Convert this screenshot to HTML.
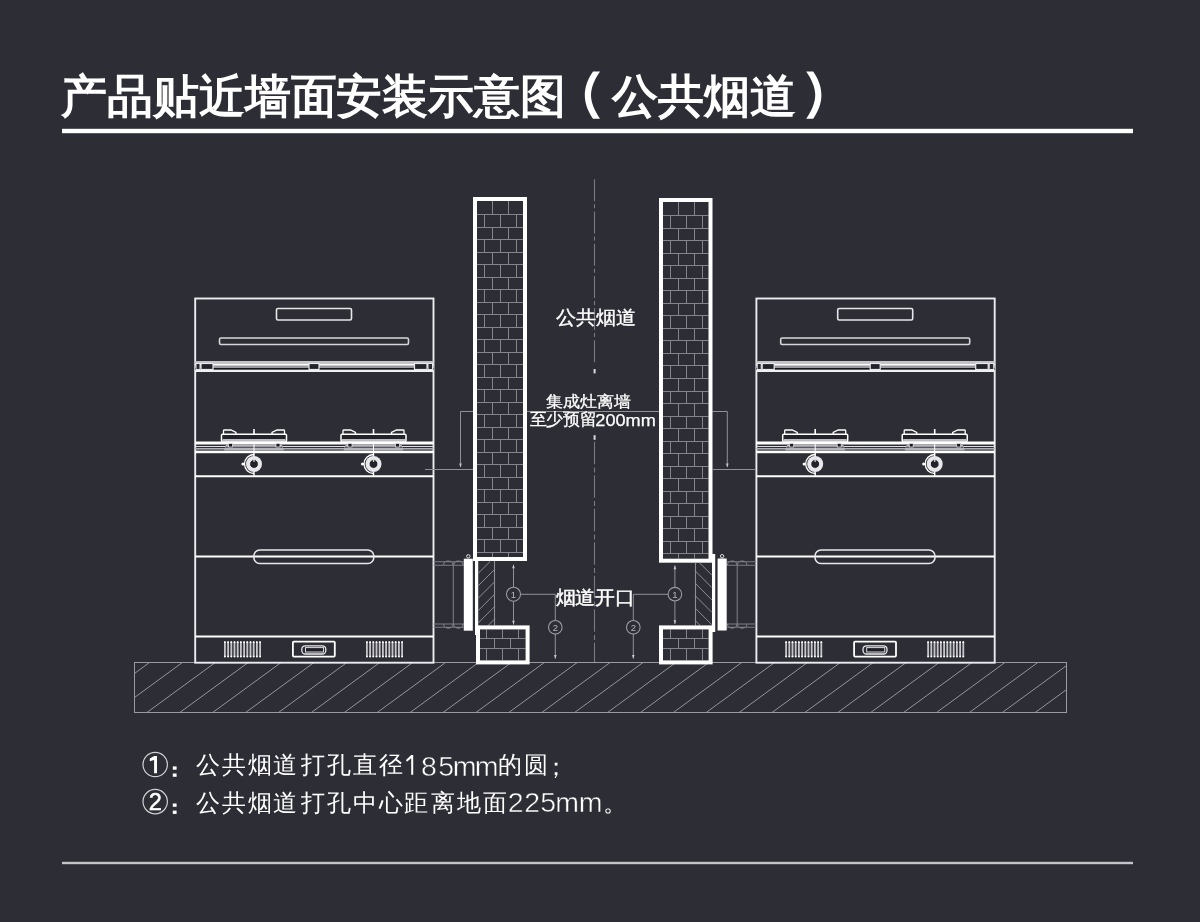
<!DOCTYPE html><html><head><meta charset="utf-8"><style>html,body{margin:0;padding:0;background:#2d2d36;}body{width:1200px;height:922px;overflow:hidden;font-family:"Liberation Sans",sans-serif;}</style></head><body>
<svg width="1200" height="922" viewBox="0 0 1200 922" style="display:block;will-change:transform">
<rect width="1200" height="922" fill="#2d2d36"/>
<text x="61" y="111.5" textLength="505" lengthAdjust="spacingAndGlyphs" font-family="Liberation Sans, sans-serif" font-size="46" font-weight="700" fill="#ffffff">产品贴近墙面安装示意图</text>
<path d="M600 71.4L593 71.4C587 80 584.8 88 584.8 95.1C584.8 102.2 587 110 593 118.8L600 118.8C594 110 591 102 591 95.1C591 88 594 80 600 71.4Z" fill="#ffffff"/>
<text x="611.5" y="111.5" textLength="184" lengthAdjust="spacingAndGlyphs" font-family="Liberation Sans, sans-serif" font-size="46" font-weight="700" fill="#ffffff">公共烟道</text>
<path d="M806.2 71.4L813.2 71.4C819.2 80 821.4 88 821.4 95.1C821.4 102.2 819.2 110 813.2 118.8L806.2 118.8C812.2 110 815.2 102 815.2 95.1C815.2 88 812.2 80 806.2 71.4Z" fill="#ffffff"/>
<rect x="62" y="128.8" width="1071" height="4.4" fill="#ffffff"/>
<rect x="134.5" y="662.5" width="932" height="50" fill="none" stroke="#9a9aa0" stroke-width="1"/>
<path d="M134.5 673.46L149.5 662.5M134.5 697.51L182.4 662.5M146.9 712.5L215.3 662.5M179.8 712.5L248.2 662.5M212.7 712.5L281.1 662.5M245.6 712.5L314 662.5M278.5 712.5L346.9 662.5M311.4 712.5L379.8 662.5M344.3 712.5L412.7 662.5M377.2 712.5L445.6 662.5M410.1 712.5L478.5 662.5M443 712.5L511.4 662.5M475.9 712.5L544.3 662.5M508.8 712.5L577.2 662.5M541.7 712.5L610.1 662.5M574.6 712.5L643 662.5M607.5 712.5L675.9 662.5M640.4 712.5L708.8 662.5M673.3 712.5L741.7 662.5M706.2 712.5L774.6 662.5M739.1 712.5L807.5 662.5M772 712.5L840.4 662.5M804.9 712.5L873.3 662.5M837.8 712.5L906.2 662.5M870.7 712.5L939.1 662.5M903.6 712.5L972 662.5M936.5 712.5L1004.9 662.5M969.4 712.5L1037.8 662.5M1002.3 712.5L1066.5 665.57M1035.2 712.5L1066.5 689.62" fill="none" stroke="#94949a" stroke-width="1"/>
<g><rect x="195.2" y="298.5" width="238.3" height="364.2" fill="none" stroke="#ececf0" stroke-width="1.9"/>
<rect x="276.5" y="308.5" width="75" height="11.5" rx="1.5" fill="none" stroke="#e6e6e8" stroke-width="1.6"/>
<rect x="219.5" y="338" width="189" height="6.5" rx="1.5" fill="none" stroke="#d6d6da" stroke-width="1.6"/>
<rect x="195" y="361" width="238.5" height="11" fill="#c4c4c8"/>
<rect x="195" y="364" width="238.5" height="1.6" fill="#ffffff"/>
<rect x="195" y="365.6" width="238.5" height="2.4" fill="#9a9aa0"/>
<rect x="195" y="368" width="238.5" height="1.8" fill="#141418"/>
<rect x="195" y="369.8" width="238.5" height="2.2" fill="#f0f0f2"/>
<rect x="201" y="363.5" width="12" height="6" fill="#22222a" stroke="#e8e8ea" stroke-width="1.2"/>
<rect x="309" y="363.5" width="10" height="6" fill="#22222a" stroke="#e8e8ea" stroke-width="1.2"/>
<rect x="414.5" y="363.5" width="12.5" height="6" fill="#22222a" stroke="#e8e8ea" stroke-width="1.2"/>
<rect x="196" y="363.5" width="4" height="6" fill="#2a2a32" stroke="#e8e8ea" stroke-width="1"/>
<rect x="428" y="363.5" width="4.5" height="6" fill="#2a2a32" stroke="#e8e8ea" stroke-width="1"/>
<rect x="195" y="441.5" width="238.5" height="3" fill="#ffffff"/>
<rect x="195" y="446" width="238.5" height="1" fill="#dcdce0"/>
<rect x="195" y="448" width="238.5" height="1" fill="#b0b0b6"/>
<rect x="195" y="449.6" width="238.5" height="0.8" fill="#e0e0e4"/>
<rect x="195" y="451" width="238.5" height="2.2" fill="#ffffff"/>
<path d="M226 444.5 L282 444.5 L284 450.5 L224 450.5 Z" fill="#b4b4ba"/>
<rect x="225.5" y="446.8" width="57" height="0.9" fill="#30303a"/>
<rect x="228.5" y="443.5" width="4" height="3.5" fill="#1a1a20" stroke="#e0e0e4" stroke-width="0.8"/>
<rect x="276" y="443.5" width="4" height="3.5" fill="#1a1a20" stroke="#e0e0e4" stroke-width="0.8"/>
<line x1="254" y1="429" x2="254" y2="434" stroke="#ffffff" stroke-width="1.6"/>
<line x1="254" y1="444" x2="254" y2="451" stroke="#ffffff" stroke-width="1"/>
<path d="M223.5 434 V430.6 Q223.5 430 224.5 430 H231 L236 432.5 V434" fill="none" stroke="#ffffff" stroke-width="1.3"/>
<path d="M284.5 434 V430.6 Q284.5 430 283.5 430 H277 L272 432.5 V434" fill="none" stroke="#ffffff" stroke-width="1.3"/>
<rect x="221.5" y="434.2" width="65" height="7.4" rx="1" fill="#22222a" stroke="#ffffff" stroke-width="1.5"/>
<rect x="222.5" y="439" width="63" height="2.4" fill="#bdbdc2"/>
<line x1="254" y1="453" x2="254" y2="476" stroke="#ffffff" stroke-width="1.4"/>
<path d="M254 454.5 A9.5 9.5 0 0 0 254 473.5" fill="none" stroke="#ffffff" stroke-width="1.3"/>
<circle cx="254" cy="464" r="8" fill="#e8e8ec"/>
<circle cx="254" cy="464" r="4.4" fill="#22222a" stroke="#ffffff" stroke-width="0.8"/>
<line x1="254" y1="459.5" x2="254" y2="462" stroke="#d0d0d4" stroke-width="1.2"/>
<circle cx="243" cy="464" r="1.6" fill="#ffffff"/>
<path d="M345.5 444.5 L401.5 444.5 L403.5 450.5 L343.5 450.5 Z" fill="#b4b4ba"/>
<rect x="345" y="446.8" width="57" height="0.9" fill="#30303a"/>
<rect x="348" y="443.5" width="4" height="3.5" fill="#1a1a20" stroke="#e0e0e4" stroke-width="0.8"/>
<rect x="395.5" y="443.5" width="4" height="3.5" fill="#1a1a20" stroke="#e0e0e4" stroke-width="0.8"/>
<line x1="373.5" y1="429" x2="373.5" y2="434" stroke="#ffffff" stroke-width="1.6"/>
<line x1="373.5" y1="444" x2="373.5" y2="451" stroke="#ffffff" stroke-width="1"/>
<path d="M343 434 V430.6 Q343 430 344 430 H350.5 L355.5 432.5 V434" fill="none" stroke="#ffffff" stroke-width="1.3"/>
<path d="M404 434 V430.6 Q404 430 403 430 H396.5 L391.5 432.5 V434" fill="none" stroke="#ffffff" stroke-width="1.3"/>
<rect x="341" y="434.2" width="65" height="7.4" rx="1" fill="#22222a" stroke="#ffffff" stroke-width="1.5"/>
<rect x="342" y="439" width="63" height="2.4" fill="#bdbdc2"/>
<line x1="373.5" y1="453" x2="373.5" y2="476" stroke="#ffffff" stroke-width="1.4"/>
<path d="M373.5 454.5 A9.5 9.5 0 0 0 373.5 473.5" fill="none" stroke="#ffffff" stroke-width="1.3"/>
<circle cx="373.5" cy="464" r="8" fill="#e8e8ec"/>
<circle cx="373.5" cy="464" r="4.4" fill="#22222a" stroke="#ffffff" stroke-width="0.8"/>
<line x1="373.5" y1="459.5" x2="373.5" y2="462" stroke="#d0d0d4" stroke-width="1.2"/>
<circle cx="362.5" cy="464" r="1.6" fill="#ffffff"/>
<line x1="195" y1="476.3" x2="433.5" y2="476.3" stroke="#ffffff" stroke-width="2"/>
<line x1="195" y1="556.6" x2="433.5" y2="556.6" stroke="#ffffff" stroke-width="2"/>
<rect x="253.8" y="550" width="120" height="13.5" rx="6" fill="none" stroke="#e8e8ec" stroke-width="1.6"/>
<line x1="195" y1="636.6" x2="433.5" y2="636.6" stroke="#ffffff" stroke-width="2"/>
<rect x="224" y="641.3" width="1.8" height="16" rx="0.9" fill="#c4c4c8"/>
<rect x="224" y="641.3" width="1.8" height="1.8" rx="0.9" fill="#ffffff"/><rect x="224" y="655.5" width="1.8" height="1.8" rx="0.9" fill="#ffffff"/>
<rect x="227.2" y="641.3" width="1.8" height="16" rx="0.9" fill="#c4c4c8"/>
<rect x="227.2" y="641.3" width="1.8" height="1.8" rx="0.9" fill="#ffffff"/><rect x="227.2" y="655.5" width="1.8" height="1.8" rx="0.9" fill="#ffffff"/>
<rect x="230.4" y="641.3" width="1.8" height="16" rx="0.9" fill="#c4c4c8"/>
<rect x="230.4" y="641.3" width="1.8" height="1.8" rx="0.9" fill="#ffffff"/><rect x="230.4" y="655.5" width="1.8" height="1.8" rx="0.9" fill="#ffffff"/>
<rect x="233.6" y="641.3" width="1.8" height="16" rx="0.9" fill="#c4c4c8"/>
<rect x="233.6" y="641.3" width="1.8" height="1.8" rx="0.9" fill="#ffffff"/><rect x="233.6" y="655.5" width="1.8" height="1.8" rx="0.9" fill="#ffffff"/>
<rect x="236.8" y="641.3" width="1.8" height="16" rx="0.9" fill="#c4c4c8"/>
<rect x="236.8" y="641.3" width="1.8" height="1.8" rx="0.9" fill="#ffffff"/><rect x="236.8" y="655.5" width="1.8" height="1.8" rx="0.9" fill="#ffffff"/>
<rect x="240" y="641.3" width="1.8" height="16" rx="0.9" fill="#c4c4c8"/>
<rect x="240" y="641.3" width="1.8" height="1.8" rx="0.9" fill="#ffffff"/><rect x="240" y="655.5" width="1.8" height="1.8" rx="0.9" fill="#ffffff"/>
<rect x="243.2" y="641.3" width="1.8" height="16" rx="0.9" fill="#c4c4c8"/>
<rect x="243.2" y="641.3" width="1.8" height="1.8" rx="0.9" fill="#ffffff"/><rect x="243.2" y="655.5" width="1.8" height="1.8" rx="0.9" fill="#ffffff"/>
<rect x="246.4" y="641.3" width="1.8" height="16" rx="0.9" fill="#c4c4c8"/>
<rect x="246.4" y="641.3" width="1.8" height="1.8" rx="0.9" fill="#ffffff"/><rect x="246.4" y="655.5" width="1.8" height="1.8" rx="0.9" fill="#ffffff"/>
<rect x="249.6" y="641.3" width="1.8" height="16" rx="0.9" fill="#c4c4c8"/>
<rect x="249.6" y="641.3" width="1.8" height="1.8" rx="0.9" fill="#ffffff"/><rect x="249.6" y="655.5" width="1.8" height="1.8" rx="0.9" fill="#ffffff"/>
<rect x="252.8" y="641.3" width="1.8" height="16" rx="0.9" fill="#c4c4c8"/>
<rect x="252.8" y="641.3" width="1.8" height="1.8" rx="0.9" fill="#ffffff"/><rect x="252.8" y="655.5" width="1.8" height="1.8" rx="0.9" fill="#ffffff"/>
<rect x="256" y="641.3" width="1.8" height="16" rx="0.9" fill="#c4c4c8"/>
<rect x="256" y="641.3" width="1.8" height="1.8" rx="0.9" fill="#ffffff"/><rect x="256" y="655.5" width="1.8" height="1.8" rx="0.9" fill="#ffffff"/>
<rect x="259.2" y="641.3" width="1.8" height="16" rx="0.9" fill="#c4c4c8"/>
<rect x="259.2" y="641.3" width="1.8" height="1.8" rx="0.9" fill="#ffffff"/><rect x="259.2" y="655.5" width="1.8" height="1.8" rx="0.9" fill="#ffffff"/>
<rect x="366" y="641.3" width="1.8" height="16" rx="0.9" fill="#c4c4c8"/>
<rect x="366" y="641.3" width="1.8" height="1.8" rx="0.9" fill="#ffffff"/><rect x="366" y="655.5" width="1.8" height="1.8" rx="0.9" fill="#ffffff"/>
<rect x="369.2" y="641.3" width="1.8" height="16" rx="0.9" fill="#c4c4c8"/>
<rect x="369.2" y="641.3" width="1.8" height="1.8" rx="0.9" fill="#ffffff"/><rect x="369.2" y="655.5" width="1.8" height="1.8" rx="0.9" fill="#ffffff"/>
<rect x="372.4" y="641.3" width="1.8" height="16" rx="0.9" fill="#c4c4c8"/>
<rect x="372.4" y="641.3" width="1.8" height="1.8" rx="0.9" fill="#ffffff"/><rect x="372.4" y="655.5" width="1.8" height="1.8" rx="0.9" fill="#ffffff"/>
<rect x="375.6" y="641.3" width="1.8" height="16" rx="0.9" fill="#c4c4c8"/>
<rect x="375.6" y="641.3" width="1.8" height="1.8" rx="0.9" fill="#ffffff"/><rect x="375.6" y="655.5" width="1.8" height="1.8" rx="0.9" fill="#ffffff"/>
<rect x="378.8" y="641.3" width="1.8" height="16" rx="0.9" fill="#c4c4c8"/>
<rect x="378.8" y="641.3" width="1.8" height="1.8" rx="0.9" fill="#ffffff"/><rect x="378.8" y="655.5" width="1.8" height="1.8" rx="0.9" fill="#ffffff"/>
<rect x="382" y="641.3" width="1.8" height="16" rx="0.9" fill="#c4c4c8"/>
<rect x="382" y="641.3" width="1.8" height="1.8" rx="0.9" fill="#ffffff"/><rect x="382" y="655.5" width="1.8" height="1.8" rx="0.9" fill="#ffffff"/>
<rect x="385.2" y="641.3" width="1.8" height="16" rx="0.9" fill="#c4c4c8"/>
<rect x="385.2" y="641.3" width="1.8" height="1.8" rx="0.9" fill="#ffffff"/><rect x="385.2" y="655.5" width="1.8" height="1.8" rx="0.9" fill="#ffffff"/>
<rect x="388.4" y="641.3" width="1.8" height="16" rx="0.9" fill="#c4c4c8"/>
<rect x="388.4" y="641.3" width="1.8" height="1.8" rx="0.9" fill="#ffffff"/><rect x="388.4" y="655.5" width="1.8" height="1.8" rx="0.9" fill="#ffffff"/>
<rect x="391.6" y="641.3" width="1.8" height="16" rx="0.9" fill="#c4c4c8"/>
<rect x="391.6" y="641.3" width="1.8" height="1.8" rx="0.9" fill="#ffffff"/><rect x="391.6" y="655.5" width="1.8" height="1.8" rx="0.9" fill="#ffffff"/>
<rect x="394.8" y="641.3" width="1.8" height="16" rx="0.9" fill="#c4c4c8"/>
<rect x="394.8" y="641.3" width="1.8" height="1.8" rx="0.9" fill="#ffffff"/><rect x="394.8" y="655.5" width="1.8" height="1.8" rx="0.9" fill="#ffffff"/>
<rect x="398" y="641.3" width="1.8" height="16" rx="0.9" fill="#c4c4c8"/>
<rect x="398" y="641.3" width="1.8" height="1.8" rx="0.9" fill="#ffffff"/><rect x="398" y="655.5" width="1.8" height="1.8" rx="0.9" fill="#ffffff"/>
<rect x="401.2" y="641.3" width="1.8" height="16" rx="0.9" fill="#c4c4c8"/>
<rect x="401.2" y="641.3" width="1.8" height="1.8" rx="0.9" fill="#ffffff"/><rect x="401.2" y="655.5" width="1.8" height="1.8" rx="0.9" fill="#ffffff"/>
<rect x="292.9" y="641.6" width="41.9" height="15" rx="1" fill="none" stroke="#ffffff" stroke-width="1.8"/>
<rect x="301.8" y="645.8" width="24" height="8.2" rx="3.5" fill="none" stroke="#e8e8ec" stroke-width="1.3"/>
<rect x="305.5" y="647.6" width="18" height="4.4" fill="#1e1e26" stroke="#d8d8dc" stroke-width="1"/></g>
<g transform="translate(561.2 0)"><rect x="195.2" y="298.5" width="238.3" height="364.2" fill="none" stroke="#ececf0" stroke-width="1.9"/>
<rect x="276.5" y="308.5" width="75" height="11.5" rx="1.5" fill="none" stroke="#e6e6e8" stroke-width="1.6"/>
<rect x="219.5" y="338" width="189" height="6.5" rx="1.5" fill="none" stroke="#d6d6da" stroke-width="1.6"/>
<rect x="195" y="361" width="238.5" height="11" fill="#c4c4c8"/>
<rect x="195" y="364" width="238.5" height="1.6" fill="#ffffff"/>
<rect x="195" y="365.6" width="238.5" height="2.4" fill="#9a9aa0"/>
<rect x="195" y="368" width="238.5" height="1.8" fill="#141418"/>
<rect x="195" y="369.8" width="238.5" height="2.2" fill="#f0f0f2"/>
<rect x="201" y="363.5" width="12" height="6" fill="#22222a" stroke="#e8e8ea" stroke-width="1.2"/>
<rect x="309" y="363.5" width="10" height="6" fill="#22222a" stroke="#e8e8ea" stroke-width="1.2"/>
<rect x="414.5" y="363.5" width="12.5" height="6" fill="#22222a" stroke="#e8e8ea" stroke-width="1.2"/>
<rect x="196" y="363.5" width="4" height="6" fill="#2a2a32" stroke="#e8e8ea" stroke-width="1"/>
<rect x="428" y="363.5" width="4.5" height="6" fill="#2a2a32" stroke="#e8e8ea" stroke-width="1"/>
<rect x="195" y="441.5" width="238.5" height="3" fill="#ffffff"/>
<rect x="195" y="446" width="238.5" height="1" fill="#dcdce0"/>
<rect x="195" y="448" width="238.5" height="1" fill="#b0b0b6"/>
<rect x="195" y="449.6" width="238.5" height="0.8" fill="#e0e0e4"/>
<rect x="195" y="451" width="238.5" height="2.2" fill="#ffffff"/>
<path d="M226 444.5 L282 444.5 L284 450.5 L224 450.5 Z" fill="#b4b4ba"/>
<rect x="225.5" y="446.8" width="57" height="0.9" fill="#30303a"/>
<rect x="228.5" y="443.5" width="4" height="3.5" fill="#1a1a20" stroke="#e0e0e4" stroke-width="0.8"/>
<rect x="276" y="443.5" width="4" height="3.5" fill="#1a1a20" stroke="#e0e0e4" stroke-width="0.8"/>
<line x1="254" y1="429" x2="254" y2="434" stroke="#ffffff" stroke-width="1.6"/>
<line x1="254" y1="444" x2="254" y2="451" stroke="#ffffff" stroke-width="1"/>
<path d="M223.5 434 V430.6 Q223.5 430 224.5 430 H231 L236 432.5 V434" fill="none" stroke="#ffffff" stroke-width="1.3"/>
<path d="M284.5 434 V430.6 Q284.5 430 283.5 430 H277 L272 432.5 V434" fill="none" stroke="#ffffff" stroke-width="1.3"/>
<rect x="221.5" y="434.2" width="65" height="7.4" rx="1" fill="#22222a" stroke="#ffffff" stroke-width="1.5"/>
<rect x="222.5" y="439" width="63" height="2.4" fill="#bdbdc2"/>
<line x1="254" y1="453" x2="254" y2="476" stroke="#ffffff" stroke-width="1.4"/>
<path d="M254 454.5 A9.5 9.5 0 0 0 254 473.5" fill="none" stroke="#ffffff" stroke-width="1.3"/>
<circle cx="254" cy="464" r="8" fill="#e8e8ec"/>
<circle cx="254" cy="464" r="4.4" fill="#22222a" stroke="#ffffff" stroke-width="0.8"/>
<line x1="254" y1="459.5" x2="254" y2="462" stroke="#d0d0d4" stroke-width="1.2"/>
<circle cx="243" cy="464" r="1.6" fill="#ffffff"/>
<path d="M345.5 444.5 L401.5 444.5 L403.5 450.5 L343.5 450.5 Z" fill="#b4b4ba"/>
<rect x="345" y="446.8" width="57" height="0.9" fill="#30303a"/>
<rect x="348" y="443.5" width="4" height="3.5" fill="#1a1a20" stroke="#e0e0e4" stroke-width="0.8"/>
<rect x="395.5" y="443.5" width="4" height="3.5" fill="#1a1a20" stroke="#e0e0e4" stroke-width="0.8"/>
<line x1="373.5" y1="429" x2="373.5" y2="434" stroke="#ffffff" stroke-width="1.6"/>
<line x1="373.5" y1="444" x2="373.5" y2="451" stroke="#ffffff" stroke-width="1"/>
<path d="M343 434 V430.6 Q343 430 344 430 H350.5 L355.5 432.5 V434" fill="none" stroke="#ffffff" stroke-width="1.3"/>
<path d="M404 434 V430.6 Q404 430 403 430 H396.5 L391.5 432.5 V434" fill="none" stroke="#ffffff" stroke-width="1.3"/>
<rect x="341" y="434.2" width="65" height="7.4" rx="1" fill="#22222a" stroke="#ffffff" stroke-width="1.5"/>
<rect x="342" y="439" width="63" height="2.4" fill="#bdbdc2"/>
<line x1="373.5" y1="453" x2="373.5" y2="476" stroke="#ffffff" stroke-width="1.4"/>
<path d="M373.5 454.5 A9.5 9.5 0 0 0 373.5 473.5" fill="none" stroke="#ffffff" stroke-width="1.3"/>
<circle cx="373.5" cy="464" r="8" fill="#e8e8ec"/>
<circle cx="373.5" cy="464" r="4.4" fill="#22222a" stroke="#ffffff" stroke-width="0.8"/>
<line x1="373.5" y1="459.5" x2="373.5" y2="462" stroke="#d0d0d4" stroke-width="1.2"/>
<circle cx="362.5" cy="464" r="1.6" fill="#ffffff"/>
<line x1="195" y1="476.3" x2="433.5" y2="476.3" stroke="#ffffff" stroke-width="2"/>
<line x1="195" y1="556.6" x2="433.5" y2="556.6" stroke="#ffffff" stroke-width="2"/>
<rect x="253.8" y="550" width="120" height="13.5" rx="6" fill="none" stroke="#e8e8ec" stroke-width="1.6"/>
<line x1="195" y1="636.6" x2="433.5" y2="636.6" stroke="#ffffff" stroke-width="2"/>
<rect x="224" y="641.3" width="1.8" height="16" rx="0.9" fill="#c4c4c8"/>
<rect x="224" y="641.3" width="1.8" height="1.8" rx="0.9" fill="#ffffff"/><rect x="224" y="655.5" width="1.8" height="1.8" rx="0.9" fill="#ffffff"/>
<rect x="227.2" y="641.3" width="1.8" height="16" rx="0.9" fill="#c4c4c8"/>
<rect x="227.2" y="641.3" width="1.8" height="1.8" rx="0.9" fill="#ffffff"/><rect x="227.2" y="655.5" width="1.8" height="1.8" rx="0.9" fill="#ffffff"/>
<rect x="230.4" y="641.3" width="1.8" height="16" rx="0.9" fill="#c4c4c8"/>
<rect x="230.4" y="641.3" width="1.8" height="1.8" rx="0.9" fill="#ffffff"/><rect x="230.4" y="655.5" width="1.8" height="1.8" rx="0.9" fill="#ffffff"/>
<rect x="233.6" y="641.3" width="1.8" height="16" rx="0.9" fill="#c4c4c8"/>
<rect x="233.6" y="641.3" width="1.8" height="1.8" rx="0.9" fill="#ffffff"/><rect x="233.6" y="655.5" width="1.8" height="1.8" rx="0.9" fill="#ffffff"/>
<rect x="236.8" y="641.3" width="1.8" height="16" rx="0.9" fill="#c4c4c8"/>
<rect x="236.8" y="641.3" width="1.8" height="1.8" rx="0.9" fill="#ffffff"/><rect x="236.8" y="655.5" width="1.8" height="1.8" rx="0.9" fill="#ffffff"/>
<rect x="240" y="641.3" width="1.8" height="16" rx="0.9" fill="#c4c4c8"/>
<rect x="240" y="641.3" width="1.8" height="1.8" rx="0.9" fill="#ffffff"/><rect x="240" y="655.5" width="1.8" height="1.8" rx="0.9" fill="#ffffff"/>
<rect x="243.2" y="641.3" width="1.8" height="16" rx="0.9" fill="#c4c4c8"/>
<rect x="243.2" y="641.3" width="1.8" height="1.8" rx="0.9" fill="#ffffff"/><rect x="243.2" y="655.5" width="1.8" height="1.8" rx="0.9" fill="#ffffff"/>
<rect x="246.4" y="641.3" width="1.8" height="16" rx="0.9" fill="#c4c4c8"/>
<rect x="246.4" y="641.3" width="1.8" height="1.8" rx="0.9" fill="#ffffff"/><rect x="246.4" y="655.5" width="1.8" height="1.8" rx="0.9" fill="#ffffff"/>
<rect x="249.6" y="641.3" width="1.8" height="16" rx="0.9" fill="#c4c4c8"/>
<rect x="249.6" y="641.3" width="1.8" height="1.8" rx="0.9" fill="#ffffff"/><rect x="249.6" y="655.5" width="1.8" height="1.8" rx="0.9" fill="#ffffff"/>
<rect x="252.8" y="641.3" width="1.8" height="16" rx="0.9" fill="#c4c4c8"/>
<rect x="252.8" y="641.3" width="1.8" height="1.8" rx="0.9" fill="#ffffff"/><rect x="252.8" y="655.5" width="1.8" height="1.8" rx="0.9" fill="#ffffff"/>
<rect x="256" y="641.3" width="1.8" height="16" rx="0.9" fill="#c4c4c8"/>
<rect x="256" y="641.3" width="1.8" height="1.8" rx="0.9" fill="#ffffff"/><rect x="256" y="655.5" width="1.8" height="1.8" rx="0.9" fill="#ffffff"/>
<rect x="259.2" y="641.3" width="1.8" height="16" rx="0.9" fill="#c4c4c8"/>
<rect x="259.2" y="641.3" width="1.8" height="1.8" rx="0.9" fill="#ffffff"/><rect x="259.2" y="655.5" width="1.8" height="1.8" rx="0.9" fill="#ffffff"/>
<rect x="366" y="641.3" width="1.8" height="16" rx="0.9" fill="#c4c4c8"/>
<rect x="366" y="641.3" width="1.8" height="1.8" rx="0.9" fill="#ffffff"/><rect x="366" y="655.5" width="1.8" height="1.8" rx="0.9" fill="#ffffff"/>
<rect x="369.2" y="641.3" width="1.8" height="16" rx="0.9" fill="#c4c4c8"/>
<rect x="369.2" y="641.3" width="1.8" height="1.8" rx="0.9" fill="#ffffff"/><rect x="369.2" y="655.5" width="1.8" height="1.8" rx="0.9" fill="#ffffff"/>
<rect x="372.4" y="641.3" width="1.8" height="16" rx="0.9" fill="#c4c4c8"/>
<rect x="372.4" y="641.3" width="1.8" height="1.8" rx="0.9" fill="#ffffff"/><rect x="372.4" y="655.5" width="1.8" height="1.8" rx="0.9" fill="#ffffff"/>
<rect x="375.6" y="641.3" width="1.8" height="16" rx="0.9" fill="#c4c4c8"/>
<rect x="375.6" y="641.3" width="1.8" height="1.8" rx="0.9" fill="#ffffff"/><rect x="375.6" y="655.5" width="1.8" height="1.8" rx="0.9" fill="#ffffff"/>
<rect x="378.8" y="641.3" width="1.8" height="16" rx="0.9" fill="#c4c4c8"/>
<rect x="378.8" y="641.3" width="1.8" height="1.8" rx="0.9" fill="#ffffff"/><rect x="378.8" y="655.5" width="1.8" height="1.8" rx="0.9" fill="#ffffff"/>
<rect x="382" y="641.3" width="1.8" height="16" rx="0.9" fill="#c4c4c8"/>
<rect x="382" y="641.3" width="1.8" height="1.8" rx="0.9" fill="#ffffff"/><rect x="382" y="655.5" width="1.8" height="1.8" rx="0.9" fill="#ffffff"/>
<rect x="385.2" y="641.3" width="1.8" height="16" rx="0.9" fill="#c4c4c8"/>
<rect x="385.2" y="641.3" width="1.8" height="1.8" rx="0.9" fill="#ffffff"/><rect x="385.2" y="655.5" width="1.8" height="1.8" rx="0.9" fill="#ffffff"/>
<rect x="388.4" y="641.3" width="1.8" height="16" rx="0.9" fill="#c4c4c8"/>
<rect x="388.4" y="641.3" width="1.8" height="1.8" rx="0.9" fill="#ffffff"/><rect x="388.4" y="655.5" width="1.8" height="1.8" rx="0.9" fill="#ffffff"/>
<rect x="391.6" y="641.3" width="1.8" height="16" rx="0.9" fill="#c4c4c8"/>
<rect x="391.6" y="641.3" width="1.8" height="1.8" rx="0.9" fill="#ffffff"/><rect x="391.6" y="655.5" width="1.8" height="1.8" rx="0.9" fill="#ffffff"/>
<rect x="394.8" y="641.3" width="1.8" height="16" rx="0.9" fill="#c4c4c8"/>
<rect x="394.8" y="641.3" width="1.8" height="1.8" rx="0.9" fill="#ffffff"/><rect x="394.8" y="655.5" width="1.8" height="1.8" rx="0.9" fill="#ffffff"/>
<rect x="398" y="641.3" width="1.8" height="16" rx="0.9" fill="#c4c4c8"/>
<rect x="398" y="641.3" width="1.8" height="1.8" rx="0.9" fill="#ffffff"/><rect x="398" y="655.5" width="1.8" height="1.8" rx="0.9" fill="#ffffff"/>
<rect x="401.2" y="641.3" width="1.8" height="16" rx="0.9" fill="#c4c4c8"/>
<rect x="401.2" y="641.3" width="1.8" height="1.8" rx="0.9" fill="#ffffff"/><rect x="401.2" y="655.5" width="1.8" height="1.8" rx="0.9" fill="#ffffff"/>
<rect x="292.9" y="641.6" width="41.9" height="15" rx="1" fill="none" stroke="#ffffff" stroke-width="1.8"/>
<rect x="301.8" y="645.8" width="24" height="8.2" rx="3.5" fill="none" stroke="#e8e8ec" stroke-width="1.3"/>
<rect x="305.5" y="647.6" width="18" height="4.4" fill="#1e1e26" stroke="#d8d8dc" stroke-width="1"/></g>
<path d="M460.5 467V411.5H727.3V467M425 469.5H473M713 469.5H756" fill="none" stroke="#909096" stroke-width="1"/>
<rect x="473" y="197" width="54" height="364" fill="#2d2d36"/>
<path d="M477 214.5H523M477 227.5H523M477 239.5H523M477 252.5H523M477 264.5H523M477 277.5H523M477 289.5H523M477 302.5H523M477 314.5H523M477 327.5H523M477 339.5H523M477 352.5H523M477 364.5H523M477 377.5H523M477 389.5H523M477 402.5H523M477 414.5H523M477 427.5H523M477 439.5H523M477 452.5H523M477 464.5H523M477 477.5H523M477 489.5H523M477 502.5H523M477 514.5H523M477 527.5H523M477 539.5H523M477 552.5H523M492.5 201V214.5M508.5 201V214.5M484.5 214.5V227.01M500.5 214.5V227.01M516.5 214.5V227.01M492.5 227.01V239.53M508.5 227.01V239.53M484.5 239.53V252.04M500.5 239.53V252.04M516.5 239.53V252.04M492.5 252.04V264.56M508.5 252.04V264.56M484.5 264.56V277.07M500.5 264.56V277.07M516.5 264.56V277.07M492.5 277.07V289.59M508.5 277.07V289.59M484.5 289.59V302.1M500.5 289.59V302.1M516.5 289.59V302.1M492.5 302.1V314.62M508.5 302.1V314.62M484.5 314.62V327.13M500.5 314.62V327.13M516.5 314.62V327.13M492.5 327.13V339.65M508.5 327.13V339.65M484.5 339.65V352.16M500.5 339.65V352.16M516.5 339.65V352.16M492.5 352.16V364.68M508.5 352.16V364.68M484.5 364.68V377.19M500.5 364.68V377.19M516.5 364.68V377.19M492.5 377.19V389.71M508.5 377.19V389.71M484.5 389.71V402.22M500.5 389.71V402.22M516.5 389.71V402.22M492.5 402.22V414.74M508.5 402.22V414.74M484.5 414.74V427.25M500.5 414.74V427.25M516.5 414.74V427.25M492.5 427.25V439.77M508.5 427.25V439.77M484.5 439.77V452.28M500.5 439.77V452.28M516.5 439.77V452.28M492.5 452.28V464.8M508.5 452.28V464.8M484.5 464.8V477.31M500.5 464.8V477.31M516.5 464.8V477.31M492.5 477.31V489.83M508.5 477.31V489.83M484.5 489.83V502.34M500.5 489.83V502.34M516.5 489.83V502.34M492.5 502.34V514.86M508.5 502.34V514.86M484.5 514.86V527.37M500.5 514.86V527.37M516.5 514.86V527.37M492.5 527.37V539.89M508.5 527.37V539.89M484.5 539.89V552.4M500.5 539.89V552.4M516.5 539.89V552.4M492.5 552.4V557M508.5 552.4V557" fill="none" stroke="#84848b" stroke-width="1"/>
<rect x="475" y="199" width="50" height="360" fill="none" stroke="#ffffff" stroke-width="4"/>
<rect x="659" y="198" width="53.5" height="364.7" fill="#2d2d36"/>
<path d="M663 215.5H708.5M663 228.5H708.5M663 240.5H708.5M663 253.5H708.5M663 265.5H708.5M663 278.5H708.5M663 290.5H708.5M663 303.5H708.5M663 315.5H708.5M663 328.5H708.5M663 340.5H708.5M663 353.5H708.5M663 365.5H708.5M663 378.5H708.5M663 391.5H708.5M663 403.5H708.5M663 416.5H708.5M663 428.5H708.5M663 441.5H708.5M663 453.5H708.5M663 466.5H708.5M663 478.5H708.5M663 491.5H708.5M663 503.5H708.5M663 516.5H708.5M663 528.5H708.5M663 541.5H708.5M663 553.5H708.5M678.5 202V215.6M694.5 202V215.6M670.5 215.6V228.13M686.5 215.6V228.13M702.5 215.6V228.13M678.5 228.13V240.66M694.5 228.13V240.66M670.5 240.66V253.19M686.5 240.66V253.19M702.5 240.66V253.19M678.5 253.19V265.72M694.5 253.19V265.72M670.5 265.72V278.25M686.5 265.72V278.25M702.5 265.72V278.25M678.5 278.25V290.78M694.5 278.25V290.78M670.5 290.78V303.31M686.5 290.78V303.31M702.5 290.78V303.31M678.5 303.31V315.84M694.5 303.31V315.84M670.5 315.84V328.37M686.5 315.84V328.37M702.5 315.84V328.37M678.5 328.37V340.9M694.5 328.37V340.9M670.5 340.9V353.43M686.5 340.9V353.43M702.5 340.9V353.43M678.5 353.43V365.96M694.5 353.43V365.96M670.5 365.96V378.49M686.5 365.96V378.49M702.5 365.96V378.49M678.5 378.49V391.02M694.5 378.49V391.02M670.5 391.02V403.55M686.5 391.02V403.55M702.5 391.02V403.55M678.5 403.55V416.08M694.5 403.55V416.08M670.5 416.08V428.61M686.5 416.08V428.61M702.5 416.08V428.61M678.5 428.61V441.14M694.5 428.61V441.14M670.5 441.14V453.67M686.5 441.14V453.67M702.5 441.14V453.67M678.5 453.67V466.2M694.5 453.67V466.2M670.5 466.2V478.73M686.5 466.2V478.73M702.5 466.2V478.73M678.5 478.73V491.26M694.5 478.73V491.26M670.5 491.26V503.79M686.5 491.26V503.79M702.5 491.26V503.79M678.5 503.79V516.32M694.5 503.79V516.32M670.5 516.32V528.85M686.5 516.32V528.85M702.5 516.32V528.85M678.5 528.85V541.38M694.5 528.85V541.38M670.5 541.38V553.91M686.5 541.38V553.91M702.5 541.38V553.91M678.5 553.91V558.7M694.5 553.91V558.7" fill="none" stroke="#84848b" stroke-width="1"/>
<rect x="661" y="200" width="49.5" height="360.7" fill="none" stroke="#ffffff" stroke-width="4"/>
<rect x="475" y="559" width="3.2" height="76" fill="#ffffff"/>
<rect x="712" y="554" width="3.2" height="78" fill="#ffffff"/>
<line x1="494.5" y1="561" x2="494.5" y2="625.5" stroke="#8e8e94" stroke-width="1.1"/>
<path d="M478.2 573.4L490.6 561M478.2 585.8L495 569M478.2 598.2L495 581.4M478.2 610.6L495 593.8M478.2 623L495 606.2M488.1 625.5L495 618.6" fill="none" stroke="#8e8e94" stroke-width="1"/>
<line x1="695.5" y1="562.7" x2="695.5" y2="625.5" stroke="#8e8e94" stroke-width="1.1"/>
<path d="M699.4 562.7L711.8 575.1M695 570.7L711.8 587.5M695 583.1L711.8 599.9M695 595.5L711.8 612.3M695 607.9L711.8 624.7M695 620.3L700.2 625.5" fill="none" stroke="#8e8e94" stroke-width="1"/>
<path d="M480 638.5H525.6M480 648.5H525.6M486.5 629.4V638.4M502.5 629.4V638.4M518.5 629.4V638.4M494.5 638.4V648.4M510.5 638.4V648.4M486.5 648.4V660.4M502.5 648.4V660.4M518.5 648.4V660.4" fill="none" stroke="#84848b" stroke-width="1"/>
<rect x="478" y="627.4" width="49.6" height="35" fill="none" stroke="#ffffff" stroke-width="4"/>
<path d="M663 638.5H708.6M663 648.5H708.6M670.5 629.4V638.4M686.5 629.4V638.4M702.5 629.4V638.4M678.5 638.4V648.4M694.5 638.4V648.4M670.5 648.4V660.4M686.5 648.4V660.4M702.5 648.4V660.4" fill="none" stroke="#84848b" stroke-width="1"/>
<rect x="661" y="627.4" width="49.6" height="35" fill="none" stroke="#ffffff" stroke-width="4"/>
<path d="M433.5 561.8H463.8M433.5 565.2H463.8M433.5 624H463.8M433.5 627.3H463.8M453.3 565V624M443.5 565.2A4.8 4.2 0 0 1 453.1 565.2M443.5 624A4.8 4.2 0 0 0 453.1 624M453.5 565.2A4.8 4.2 0 0 1 463.1 565.2M453.5 624A4.8 4.2 0 0 0 463.1 624" fill="none" stroke="#7e7e86" stroke-width="1.05"/>
<path d="M726.7 561.8H756.2M726.7 565.2H756.2M726.7 624H756.2M726.7 627.3H756.2M737.2 565V624M727.4 565.2A4.8 4.2 0 0 1 737 565.2M727.4 624A4.8 4.2 0 0 0 737 624M737.4 565.2A4.8 4.2 0 0 1 747 565.2M737.4 624A4.8 4.2 0 0 0 747 624" fill="none" stroke="#7e7e86" stroke-width="1.05"/>
<rect x="463.8" y="558.7" width="9" height="72" fill="#ffffff"/>
<circle cx="468.3" cy="556.3" r="1.7" fill="none" stroke="#e0e0e4" stroke-width="1"/>
<rect x="717.6" y="558.5" width="9.1" height="72" fill="#ffffff"/>
<circle cx="722.1" cy="556.2" r="1.7" fill="none" stroke="#e0e0e4" stroke-width="1"/>
<line x1="594.5" y1="179.3" x2="594.5" y2="364.5" stroke="#7a7a82" stroke-width="1.1" stroke-dasharray="22 3 4 3.2"/>
<rect x="593.6" y="369" width="2" height="4.4" fill="#d8d8dc"/>
<rect x="593.6" y="435.2" width="2" height="4.6" fill="#d8d8dc"/>
<line x1="594.5" y1="441.7" x2="594.5" y2="662" stroke="#7a7a82" stroke-width="1.1" stroke-dasharray="22.5 3.4 5 2.6"/>
<path d="M459.2 463.5L461.8 463.5L460.5 467.5Z" fill="#c8c8cc"/>
<path d="M726 463.5L728.6 463.5L727.3 467.5Z" fill="#c8c8cc"/>
<path d="M513.5 565V624.5M520.5 594.3H555.3V658.5M674.9 565.5V624M668 594.3H633.3V658.5" fill="none" stroke="#909096" stroke-width="1"/>
<path d="M512.2 568.3L514.8 568.3L513.5 564.3Z" fill="#c8c8cc"/>
<path d="M512.2 620.8L514.8 620.8L513.5 624.8Z" fill="#c8c8cc"/>
<path d="M673.6 569.3L676.2 569.3L674.9 565.3Z" fill="#c8c8cc"/>
<path d="M673.6 620.3L676.2 620.3L674.9 624.3Z" fill="#c8c8cc"/>
<path d="M554 655L556.6 655L555.3 659Z" fill="#c8c8cc"/>
<path d="M632 655L634.6 655L633.3 659Z" fill="#c8c8cc"/>
<circle cx="513.5" cy="594.2" r="7" fill="#2d2d36" stroke="#9c9ca2" stroke-width="1.1"/><text x="513.5" y="597.5" text-anchor="middle" font-family="Liberation Sans, sans-serif" font-size="9.5" fill="#b8b8bc">1</text>
<circle cx="674.9" cy="594.2" r="6.8" fill="#2d2d36" stroke="#9c9ca2" stroke-width="1.1"/><text x="674.9" y="597.5" text-anchor="middle" font-family="Liberation Sans, sans-serif" font-size="9.5" fill="#b8b8bc">1</text>
<circle cx="555.3" cy="627.3" r="6.8" fill="#2d2d36" stroke="#9c9ca2" stroke-width="1.1"/><text x="555.3" y="630.6" text-anchor="middle" font-family="Liberation Sans, sans-serif" font-size="9.5" fill="#b8b8bc">2</text>
<circle cx="633.3" cy="627.3" r="6.8" fill="#2d2d36" stroke="#9c9ca2" stroke-width="1.1"/><text x="633.3" y="630.6" text-anchor="middle" font-family="Liberation Sans, sans-serif" font-size="9.5" fill="#b8b8bc">2</text>
<text x="555.6" y="324.3" textLength="80.3" lengthAdjust="spacingAndGlyphs" font-family="Liberation Sans, sans-serif" font-size="18.6" fill="#ffffff" stroke="#ffffff" stroke-width="0.35">公共烟道</text>
<text x="546.2" y="406.6" textLength="85" lengthAdjust="spacingAndGlyphs" font-family="Liberation Sans, sans-serif" font-size="16" fill="#ffffff" stroke="#ffffff" stroke-width="0.3">集成灶离墙</text>
<text x="529.5" y="425" textLength="67.5" lengthAdjust="spacingAndGlyphs" font-family="Liberation Sans, sans-serif" font-size="16.5" fill="#ffffff" stroke="#ffffff" stroke-width="0.3">至少预留</text>
<text x="595.3" y="425.6" textLength="60.5" lengthAdjust="spacingAndGlyphs" font-family="Liberation Sans, sans-serif" font-size="17" fill="#ffffff" stroke="#ffffff" stroke-width="0.25">200mm</text>
<text x="555.5" y="603.5" textLength="79.5" lengthAdjust="spacingAndGlyphs" font-family="Liberation Sans, sans-serif" font-size="19.4" fill="#ffffff" stroke="#ffffff" stroke-width="0.45">烟道开口</text>
<circle cx="155.2" cy="764.5" r="12.2" fill="none" stroke="#d0d0d4" stroke-width="1.2"/>
<path d="M149.8 758.5L154.2 756.1H157V773.2H154.1V759.9L149.8 761.3Z" fill="#ffffff"/>
<rect x="172.8" y="766.4" width="3.8" height="3.3" fill="#ffffff"/><rect x="172.8" y="773.5" width="3.8" height="3.3" fill="#ffffff"/>
<text x="196.3 222 248 273 301.3 326.7 353.3 379.3" y="773.3" font-family="Liberation Sans, sans-serif" font-size="24" fill="#ffffff" >公共烟道打孔直径</text>
<text x="421 438.3 452.7 474.7" y="776.3" font-family="Liberation Sans, sans-serif" font-size="28.5" fill="#ffffff" stroke="#2d2d36" stroke-width="0.5">85mm</text>
<text x="497.7 524" y="773.3" font-family="Liberation Sans, sans-serif" font-size="24" fill="#ffffff" >的圆</text>
<circle cx="155.2" cy="801.6" r="12.2" fill="none" stroke="#d0d0d4" stroke-width="1.2"/>
<text x="155.4" y="810.2" text-anchor="middle" font-family="Liberation Sans, sans-serif" font-size="23.5" fill="#ffffff" stroke="#ffffff" stroke-width="0.5">2</text>
<rect x="172.8" y="803.5" width="3.8" height="3.3" fill="#ffffff"/><rect x="172.8" y="810.6" width="3.8" height="3.3" fill="#ffffff"/>
<text x="196.3 222 248 273 301.3 326.7 353 379.3 404.3 430.7 457.3 482.7" y="810.7" font-family="Liberation Sans, sans-serif" font-size="24" fill="#ffffff" >公共烟道打孔中心距离地面</text>
<text x="507.7 524.3 540.3 555.3 578.7" y="812.3" font-family="Liberation Sans, sans-serif" font-size="28.5" fill="#ffffff" stroke="#2d2d36" stroke-width="0.5">225mm</text>
<text x="603.3" y="810.7" font-family="Liberation Sans, sans-serif" font-size="24" fill="#ffffff" >。</text>
<text x="543.7" y="775.3" font-family="Liberation Sans, sans-serif" font-size="24" fill="#ffffff" >；</text>
<path d="M406 760.1L411.2 755H413.2V774.8H411.2V758.3L406.9 761.7Z" fill="#ffffff"/>
<rect x="62" y="861.8" width="1071" height="2.4" fill="#c4c4c8"/>
</svg></body></html>
